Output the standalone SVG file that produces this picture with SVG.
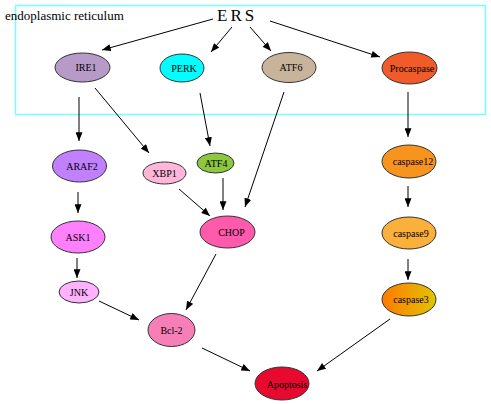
<svg xmlns="http://www.w3.org/2000/svg" width="491" height="404" viewBox="0 0 491 404">
<style>
.n{stroke:#333;stroke-width:1}
.t{font-family:"Liberation Serif","Times New Roman",serif;font-size:10px;fill:#000;text-anchor:middle}
.c line{stroke:#000;stroke-width:1;marker-end:url(#ah)}
</style>
<defs>
<marker id="ah" viewBox="0 0 10 8" refX="10" refY="4" markerWidth="9" markerHeight="7" markerUnits="userSpaceOnUse" orient="auto">
<path d="M0,0 L10,4 L0,8 Z" fill="#000"/>
</marker>
<linearGradient id="g3" x1="0" y1="0" x2="1" y2="0">
<stop offset="0" stop-color="#ff7a00"/>
<stop offset="1" stop-color="#e0c400"/>
</linearGradient>
</defs>
<rect width="491" height="404" fill="#fff"/>
<g id="er">
<rect x="15.5" y="5.5" width="470" height="109" fill="none" stroke="#7ff" stroke-width="1.5"/>
<text x="5" y="20" font-family="'Liberation Serif','Times New Roman',serif" font-size="13" fill="#000">endoplasmic reticulum</text>
</g>
<g id="ERS"><text x="217" y="20.5" font-family="'Liberation Serif','Times New Roman',serif" font-size="17" letter-spacing="3" fill="#000">ERS</text></g>
<g class="c" id="connectors">
<line x1="213" y1="19" x2="102" y2="50"/>
<line x1="232" y1="27" x2="211" y2="52"/>
<line x1="250" y1="27" x2="271" y2="51"/>
<line x1="270" y1="21" x2="380" y2="57"/>
<line x1="79" y1="97" x2="79" y2="141"/>
<line x1="95" y1="88" x2="149" y2="153"/>
<line x1="200" y1="93" x2="210" y2="146"/>
<line x1="284" y1="92" x2="245" y2="207"/>
<line x1="408" y1="92" x2="408" y2="137"/>
<line x1="78" y1="192" x2="78" y2="213"/>
<line x1="179" y1="189" x2="210" y2="216"/>
<line x1="223" y1="178" x2="223" y2="210"/>
<line x1="408" y1="186" x2="408" y2="207"/>
<line x1="408" y1="259" x2="408" y2="280"/>
<line x1="77" y1="258" x2="77" y2="278"/>
<line x1="216" y1="254" x2="186" y2="310"/>
<line x1="99" y1="301" x2="139" y2="320"/>
<line x1="202" y1="348" x2="250" y2="371"/>
<line x1="390" y1="319" x2="317" y2="371"/>
</g>
<g id="IRE1"><ellipse class="n" cx="82.5" cy="67.5" rx="27.5" ry="14.5" fill="#b89ac8"/><text class="t" x="86" y="71">IRE1</text></g>
<g id="PERK"><ellipse class="n" cx="182" cy="68" rx="22" ry="14" fill="#00ffff"/><text class="t" x="184" y="71.5">PERK</text></g>
<g id="ATF6"><ellipse class="n" cx="289" cy="67.5" rx="27" ry="15" fill="#c8b49b"/><text class="t" x="291" y="71">ATF6</text></g>
<g id="Procaspase"><ellipse class="n" cx="409.5" cy="68" rx="27.5" ry="16" fill="#f15a29"/><text class="t" x="412" y="71.5">Procaspase</text></g>
<g id="ARAF2"><ellipse class="n" cx="79.5" cy="166" rx="27" ry="16" fill="#c080ff"/><text class="t" x="82" y="170">ARAF2</text></g>
<g id="XBP1"><ellipse class="n" cx="164.5" cy="173" rx="21.5" ry="11" fill="#ffb6d9"/><text class="t" x="164.5" y="176.5">XBP1</text></g>
<g id="ATF4"><ellipse class="n" cx="215.5" cy="163" rx="18.5" ry="10" fill="#8dc63f"/><text class="t" x="216" y="166.5">ATF4</text></g>
<g id="CHOP"><ellipse class="n" cx="227.5" cy="232" rx="27.5" ry="16" fill="#ff5aac"/><text class="t" x="231.5" y="236" font-size="11.5">CHOP</text></g>
<g id="ASK1"><ellipse class="n" cx="78" cy="237" rx="27" ry="16" fill="#ff80ff"/><text class="t" x="78" y="241" font-size="11">ASK1</text></g>
<g id="JNK"><ellipse class="n" cx="79" cy="292" rx="20" ry="11" fill="#ffb3ff"/><text class="t" x="79" y="295.5">JNK</text></g>
<g id="Bcl-2"><ellipse class="n" cx="171.5" cy="330" rx="23.5" ry="16.5" fill="#f77fb8"/><text class="t" x="171.5" y="334" font-size="10.5">Bcl-2</text></g>
<g id="caspase12"><ellipse class="n" cx="409" cy="161.5" rx="27" ry="16.5" fill="#f7941d"/><text class="t" x="413" y="165">caspase12</text></g>
<g id="caspase9"><ellipse class="n" cx="409" cy="233" rx="27" ry="16" fill="#fbb03b"/><text class="t" x="411" y="236.5">caspase9</text></g>
<g id="caspase3"><ellipse class="n" cx="409" cy="299.5" rx="27" ry="16.5" fill="url(#g3)"/><text class="t" x="411" y="303">caspase3</text></g>
<g id="Apoptosis"><ellipse class="n" cx="282" cy="383.5" rx="27" ry="16.5" fill="#e8092e"/><text class="t" x="287" y="387.5" font-size="10.5">Apoptosis</text></g>
</svg>
